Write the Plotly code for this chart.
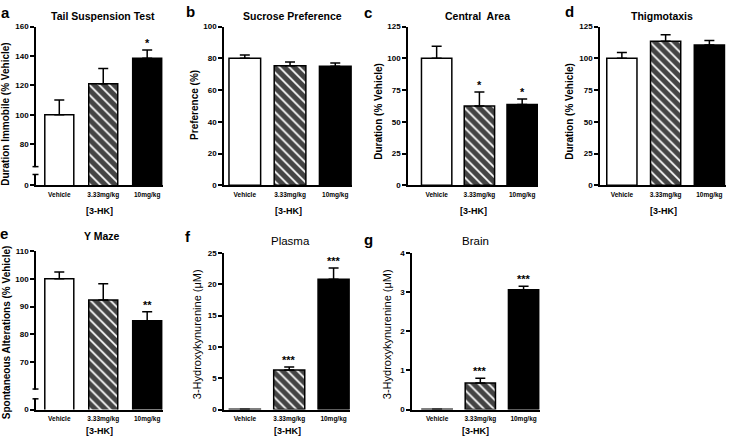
import plotly.graph_objects as go

W, H = 732, 444

categories = ["Vehicle", "3.33mg/kg", "10mg/kg"]

tail_mean = [100, 121, 138.5]
tail_sem = [10, 10.5, 5.5]
tail_stars = ["", "", "*"]

sucrose_mean = [80, 75.3, 75]
sucrose_sem = [2, 2.3, 2]
sucrose_stars = ["", "", ""]

central_mean = [100, 62.5, 63.5]
central_sem = [9.5, 11, 4.5]
central_stars = ["", "*", "*"]

thigmo_mean = [100, 113.5, 110.5]
thigmo_sem = [4.5, 5, 3.5]
thigmo_stars = ["", "", ""]

ymaze_mean = [100, 92.4, 84.9]
ymaze_sem = [2.4, 5.8, 3.2]
ymaze_stars = ["", "", "**"]

plasma_mean = [0.05, 6.3, 20.8]
plasma_sem = [0, 0.5, 1.8]
plasma_stars = ["", "***", "***"]

brain_mean = [0.01, 0.68, 3.06]
brain_sem = [0, 0.12, 0.09]
brain_stars = ["", "***", "***"]

tail_ticks = [80, 100, 120, 140, 160]
sucrose_ticks = [0, 20, 40, 60, 80, 100]
area_ticks = [0, 25, 50, 75, 100, 125]
ymaze_ticks = [70, 80, 90, 100, 110]
plasma_ticks = [0, 5, 10, 15, 20, 25]
brain_ticks = [0, 1, 2, 3, 4]

FONT = "Liberation Sans, Arial, sans-serif"

# panel layout in pixels: x-left, x-right, y-top, y-bottom of the axes box
panels = [
    dict(letter="a", title="Tail Suspension Test", ytitle="Duration Immobile (% Vehicle)",
         mean=tail_mean, sem=tail_sem, stars=tail_stars, ticks=tail_ticks,
         box=(36, 163, 23, 185), xr=[-0.53, 2.36], yr=[52, 160], brk=(166, 174),
         tpos=(103, 12), lpos=(5, 9), ypos=(6, 113), bold=True, bw=0.66, lab=26),
    dict(letter="b", title="Sucrose Preference", ytitle="Preference (%)",
         mean=sucrose_mean, sem=sucrose_sem, stars=sucrose_stars, ticks=sucrose_ticks,
         box=(224, 352, 23, 185), xr=[-0.46, 2.37], yr=[0, 100], brk=None,
         tpos=(292, 12), lpos=(190, 8), ypos=(195, 103), bold=True, bw=0.7, lab=26),
    dict(letter="c", title="Central  Area", ytitle="Duration (% Vehicle)",
         mean=central_mean, sem=central_sem, stars=central_stars, ticks=area_ticks,
         box=(408, 538, 23, 185), xr=[-0.67, 2.37], yr=[0, 125], brk=None,
         tpos=(477, 12), lpos=(368, 9), ypos=(379, 110), bold=True, bw=0.71, lab=26),
    dict(letter="d", title="Thigmotaxis", ytitle="Duration (% Vehicle)",
         mean=thigmo_mean, sem=thigmo_sem, stars=thigmo_stars, ticks=area_ticks,
         box=(600, 726, 23, 185), xr=[-0.5, 2.38], yr=[0, 125], brk=None,
         tpos=(662, 12), lpos=(569, 8), ypos=(570, 110), bold=True, bw=0.69, lab=26),
    dict(letter="e", title="Y Maze", ytitle="Spontaneous Alterations (% Vehicle)",
         mean=ymaze_mean, sem=ymaze_sem, stars=ymaze_stars, ticks=ymaze_ticks,
         box=(36, 163, 252, 414), xr=[-0.53, 2.36], yr=[53, 110], brk=(393, 403),
         tpos=(102, 237), lpos=(4, 234), ypos=(6, 335), bold=True, bw=0.66, lab=22),
    dict(letter="f", title="Plasma", ytitle="3-Hydroxykynurenine (μM)",
         mean=plasma_mean, sem=plasma_sem, stars=plasma_stars, ticks=plasma_ticks,
         box=(224, 350, 254, 414), xr=[-0.47, 2.37], yr=[0, 25], brk=None,
         tpos=(290, 242), lpos=(188, 237), ypos=(197, 337), bold=False, bw=0.7, lab=22),
    dict(letter="g", title="Brain", ytitle="3-Hydroxykynurenine (μM)",
         mean=brain_mean, sem=brain_sem, stars=brain_stars, ticks=brain_ticks,
         box=(412, 540, 254, 414), xr=[-0.58, 2.38], yr=[0, 4], brk=None,
         tpos=(476, 242), lpos=(369, 240), ypos=(387, 337), bold=False, bw=0.7, lab=22),
]


def px(x):
    return x / W


def py(y):
    return 1 - y / H


fig = go.Figure()
annotations = []
shapes = []
layout = {}

for i, p in enumerate(panels):
    n = "" if i == 0 else str(i + 1)
    x0, x1, y0, y1 = p["box"]
    fig.add_trace(go.Bar(
        x=categories, y=p["mean"], width=p["bw"],
        xaxis="x" + n, yaxis="y" + n,
        marker=dict(
            color=["white", "white", "black"],
            line=dict(color="black", width=1.5),
            pattern=dict(shape=["", "\\", ""], fgcolor="black", fgopacity=1,
                         size=7, solidity=0.75),
        ),
        error_y=dict(type="data", symmetric=False, array=p["sem"], arrayminus=[0, 0, 0],
                     color="black", thickness=1.5, width=5),
        showlegend=False,
    ))

    ticks = p["ticks"]
    tickvals = list(ticks)
    ticktext = [str(t) for t in ticks]
    if p["brk"]:
        tickvals = [p["yr"][0]] + tickvals
        ticktext = ["0"] + ticktext

    layout["xaxis" + n] = dict(
        domain=[px(x0), px(x1)], anchor="y" + n, range=p["xr"],
        showline=True, linecolor="black", linewidth=1.5,
        ticks="outside", ticklen=2, tickcolor="rgba(0,0,0,0)",
        tickfont=dict(family=FONT, size=6.5, color="black", weight="bold"),
        ticklabeloverflow="allow",
        showgrid=False, zeroline=False, fixedrange=True,
    )
    layout["yaxis" + n] = dict(
        domain=[py(y1), py(y0)], anchor="x" + n, range=p["yr"],
        showline=True, linecolor="black", linewidth=1.5,
        ticks="outside", ticklen=4, tickwidth=1.5, tickcolor="black",
        tickvals=tickvals, ticktext=ticktext,
        tickfont=dict(family=FONT, size=8, color="black", weight="bold"),
        showgrid=False, zeroline=False, fixedrange=True,
    )

    wt = "bold" if p["bold"] else "normal"
    annotations.append(dict(
        text=p["title"], x=px(p["tpos"][0]), y=py(p["tpos"][1]), xref="paper", yref="paper",
        showarrow=False, xanchor="center", yanchor="middle",
        font=dict(family=FONT, size=10.5 if p["bold"] else 11.5, color="black", weight=wt)))
    annotations.append(dict(
        text=p["letter"], x=px(p["lpos"][0]), y=py(p["lpos"][1]), xref="paper", yref="paper",
        showarrow=False, xanchor="center", yanchor="middle",
        font=dict(family=FONT, size=15, color="black", weight="bold")))
    annotations.append(dict(
        text=p["ytitle"], x=px(p["ypos"][0]), y=py(p["ypos"][1]), xref="paper", yref="paper",
        showarrow=False, xanchor="center", yanchor="middle", textangle=-90,
        font=dict(family=FONT, size=10 if p["bold"] else 11, color="black", weight=wt)))
    annotations.append(dict(
        text="[3-HK]", x=px((x0 + x1) / 2), y=py(y1 + p["lab"]), xref="paper", yref="paper",
        showarrow=False, xanchor="center", yanchor="middle",
        font=dict(family=FONT, size=9, color="black", weight="bold")))

    for c, m, s, st in zip(categories, p["mean"], p["sem"], p["stars"]):
        if st:
            annotations.append(dict(
                text=st, x=c, y=m + s, xref="x" + n, yref="y" + n,
                showarrow=False, xanchor="center", yanchor="bottom", yshift=-1,
                font=dict(family=FONT, size=11, color="black", weight="bold")))

    if p["brk"]:
        b0, b1 = p["brk"]
        shapes.append(dict(type="rect", xref="paper", yref="paper",
                           x0=px(x0 - 4), x1=px(x0 + 2), y0=py(b1 - 0.5), y1=py(b0 + 0.5),
                           fillcolor="white", line=dict(width=0), layer="above"))
        for yb in (b0, b1):
            shapes.append(dict(type="line", xref="paper", yref="paper",
                               x0=px(x0 - 3.5), x1=px(x0 + 2.5), y0=py(yb), y1=py(yb),
                               line=dict(color="black", width=1.5), layer="above"))

fig.update_layout(
    width=W, height=H,
    margin=dict(l=0, r=0, t=0, b=0),
    paper_bgcolor="white", plot_bgcolor="white",
    bargap=0.3,
    annotations=annotations, shapes=shapes,
    **layout,
)

fig.write_html("out.html", config={"displayModeBar": False},
               post_script="document.body.style.margin = '0';")
